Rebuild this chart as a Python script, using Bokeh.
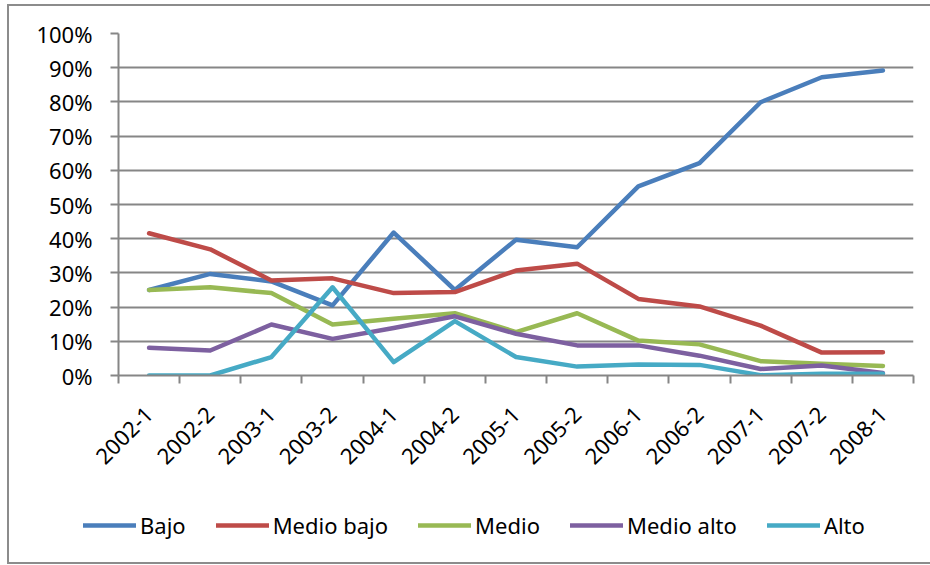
from math import pi
from bokeh.plotting import figure
from bokeh.layouts import column
from bokeh.models import Range1d, FixedTicker, PrintfTickFormatter, Legend, LegendItem
from bokeh.embed import file_html
from bokeh.resources import INLINE

categories = ["2002-1", "2002-2", "2003-1", "2003-2", "2004-1", "2004-2", "2005-1",
              "2005-2", "2006-1", "2006-2", "2007-1", "2007-2", "2008-1"]
bajo = [25.0, 29.7, 27.5, 20.5, 41.8, 25.0, 39.7, 37.5, 55.3, 62.1, 79.9, 87.2, 89.2]
medio_bajo = [41.6, 36.9, 27.8, 28.4, 24.1, 24.4, 30.7, 32.7, 22.4, 20.2, 14.6, 6.7, 6.8]
medio = [25.0, 25.8, 24.1, 14.9, 16.6, 18.2, 12.7, 18.2, 10.2, 9.1, 4.2, 3.4, 2.8]
medio_alto = [8.1, 7.3, 14.9, 10.7, 13.9, 17.3, 12.2, 8.8, 8.8, 5.8, 1.9, 2.9, 0.7]
alto = [0.0, 0.0, 5.4, 25.8, 3.9, 15.9, 5.4, 2.6, 3.2, 3.1, 0.1, 0.5, 0.5]
series_names = ["Bajo", "Medio bajo", "Medio", "Medio alto", "Alto"]
y_ticks = [0, 10, 20, 30, 40, 50, 60, 70, 80, 90, 100]

series = [bajo, medio_bajo, medio, medio_alto, alto]
colors = ["#4A7EBB", "#BE4B48", "#98B954", "#7D60A0", "#46AAC5"]
FONT = "Noto Sans"
GRAY = "#868686"
BORDER = "2px solid #8c8c8c"

x = list(range(len(categories)))

# ---------------- main chart ----------------
p = figure(width=921, height=479, x_range=Range1d(-0.5, len(categories) - 0.5),
           y_range=Range1d(0, 100), output_backend="svg", toolbar_location=None,
           min_border_left=109, min_border_right=17, min_border_top=27, min_border_bottom=110)
p.outline_line_color = None
p.background_fill_color = "white"
p.border_fill_color = "white"

xa = p.xaxis[0]
xa.ticker = FixedTicker(ticks=x, minor_ticks=[i - 0.5 for i in range(len(categories) + 1)])
xa.major_label_overrides = {i: c for i, c in enumerate(categories)}
xa.major_tick_line_color = None
xa.major_tick_in = 0
xa.major_tick_out = 8
xa.minor_tick_line_color = GRAY
xa.minor_tick_line_width = 2
xa.minor_tick_in = 0
xa.minor_tick_out = 8
xa.axis_line_color = GRAY
xa.axis_line_width = 2
xa.major_label_orientation = pi / 4
xa.major_label_standoff = 27
xa.major_label_text_font = FONT
xa.major_label_text_font_size = "22px"
xa.major_label_text_color = "black"

ya = p.yaxis[0]
ya.ticker = FixedTicker(ticks=y_ticks, minor_ticks=[])
ya.formatter = PrintfTickFormatter(format="%d%%")
ya.major_tick_line_color = GRAY
ya.major_tick_line_width = 2
ya.major_tick_in = 0
ya.major_tick_out = 8
ya.minor_tick_line_color = None
ya.axis_line_color = GRAY
ya.axis_line_width = 2
ya.major_label_standoff = 18
ya.major_label_text_font = FONT
ya.major_label_text_font_size = "22px"
ya.major_label_text_color = "black"

p.xgrid.grid_line_color = None
p.ygrid.ticker = FixedTicker(ticks=y_ticks)
p.ygrid.grid_line_color = GRAY
p.ygrid.grid_line_width = 2

for vals, col in zip(series, colors):
    p.line(x, vals, line_color=col, line_width=4.5, line_cap="round", line_join="round")

# ---------------- legend strip ----------------
pl = figure(width=921, height=77, x_range=Range1d(0, 1), y_range=Range1d(0, 1),
            output_backend="svg", toolbar_location=None, x_axis_type=None, y_axis_type=None,
            min_border=0)
pl.outline_line_color = None
pl.grid.grid_line_color = None
pl.background_fill_color = "white"
pl.border_fill_color = "white"

for fig in (p, pl):
    try:
        fig.frame_align = False
    except Exception:
        pass

items = []
for name, vals, col in zip(series_names, series, colors):
    r = pl.line(x, vals, line_color=col, line_width=4.5, line_cap="round", visible=False)
    items.append(LegendItem(label=name, renderers=[r]))

legend = Legend(items=items, orientation="horizontal", location=(74, 22),
                glyph_width=53, glyph_height=20, label_standoff=4, spacing=30,
                padding=0, margin=0, border_line_color=None, background_fill_alpha=0,
                label_text_font=FONT, label_text_font_size="22px", label_text_color="black")
pl.add_layout(legend, "center")

layout = column(p, pl, spacing=0,
                styles={"margin-left": "7px", "margin-top": "4px",
                        "border-left": BORDER, "border-top": BORDER, "border-bottom": BORDER})

open("out.html", "w").write(file_html(layout, INLINE))
